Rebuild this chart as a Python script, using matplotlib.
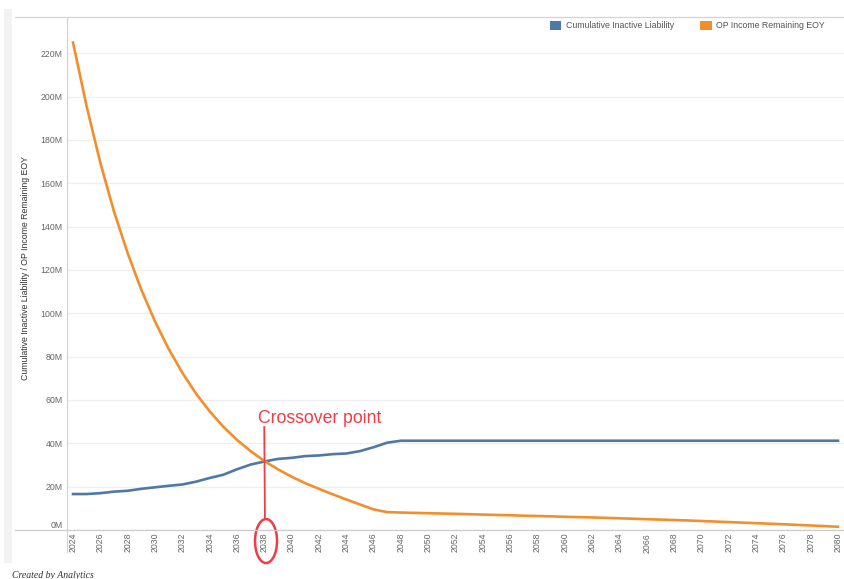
import matplotlib
matplotlib.use("Agg")
import matplotlib.pyplot as plt
from matplotlib.patches import Patch, Ellipse, Rectangle
from matplotlib.lines import Line2D

plt.rcParams['font.family'] = ['Liberation Sans', 'DejaVu Sans']

# ---- data (values in millions) ----
years = list(range(2024, 2081))

inactive_liability = [
    16.6, 16.6, 17.0, 17.7, 18.1, 19.0, 19.7, 20.4, 21.0, 22.3,
    24.0, 25.5, 28.0, 30.2, 31.6, 32.8, 33.3, 34.1, 34.4, 35.0,
    35.3, 36.4, 38.2, 40.3, 41.2, 41.2, 41.2, 41.2, 41.2, 41.2,
    41.2, 41.2, 41.2, 41.2, 41.2, 41.2, 41.2, 41.2, 41.2, 41.2,
    41.2, 41.2, 41.2, 41.2, 41.2, 41.2, 41.2, 41.2, 41.2, 41.2,
    41.2, 41.2, 41.2, 41.2, 41.2, 41.2, 41.2,
]

op_income_remaining = [
    225.0, 195.5, 169.5, 147.0, 127.8, 110.9, 96.3, 83.6, 72.6, 63.0,
    54.8, 47.7, 41.6, 36.4, 31.9, 28.0, 24.6, 21.6, 19.0, 16.5,
    14.1, 11.8, 9.5, 8.25, 8.05, 7.9, 7.75, 7.6, 7.45, 7.3,
    7.1, 6.95, 6.8, 6.6, 6.45, 6.3, 6.1, 5.95, 5.8, 5.6,
    5.4, 5.2, 5.0, 4.8, 4.6, 4.4, 4.15, 3.9, 3.65, 3.4,
    3.15, 2.9, 2.65, 2.35, 2.1, 1.8, 1.5,
]

series_names = ["Cumulative Inactive Liability", "OP Income Remaining EOY"]
y_ticks = [0, 20, 40, 60, 80, 100, 120, 140, 160, 180, 200, 220]
y_tick_labels = [f"{v}M" for v in y_ticks]
x_ticks = list(range(2024, 2081, 2))

crossover_year = 2038
annotation_text = "Crossover point"
footer_text = "Created by Analytics"
y_axis_title = "Cumulative Inactive Liability / OP Income Remaining EOY"

# ---- styling ----
BLUE = "#4e79a7"
ORANGE = "#f28e2b"
RED = "#f03c46"
GRID = "#efefef"
AXIS = "#d4d4d4"
TEXT = "#666666"

W, H = 844, 579
fig = plt.figure(figsize=(W / 100, H / 100), dpi=100)

def fx(px):
    return px / W

def fy(py):
    return 1 - py / H

ax = fig.add_axes([fx(67), fy(530), fx(844) - fx(67), fy(17) - fy(530)])

ax.plot(years, inactive_liability, color=BLUE, lw=1.9, solid_joinstyle='round', zorder=3)
ax.plot(years, op_income_remaining, color=ORANGE, lw=1.9, solid_joinstyle='round', zorder=3)

ax.set_xlim(2024 - 6 / 13.66, 2080 + 6 / 13.66)
ax.set_ylim(0, 513 / 2.1667)

ax.set_yticks(y_ticks)
ax.set_yticklabels(y_tick_labels)
ax.set_xticks(x_ticks)
ax.set_xticklabels([str(x) for x in x_ticks], rotation=90)
ax.tick_params(axis='y', length=0, pad=3, labelsize=6.3, labelcolor=TEXT)
ax.tick_params(axis='x', length=0, pad=2, labelsize=6.3, labelcolor=TEXT)
ax.get_yticklabels()[0].set_va('bottom')

ax.grid(axis='y', color=GRID, lw=0.9, zorder=0)
ax.grid(axis='x', visible=False)
for side in ['top', 'right', 'bottom']:
    ax.spines[side].set_visible(False)
ax.spines['left'].set_color(AXIS)
ax.spines['left'].set_linewidth(0.9)

# crossover annotation
ax.plot([crossover_year, crossover_year + 0.05], [47.5, 5.1], color=RED, lw=1.3,
        clip_on=False, zorder=4)
ax.text(crossover_year - 0.46, 49.3, annotation_text, color=RED, fontsize=12.7,
        va='baseline', ha='left', zorder=4)
ax.add_patch(Ellipse((crossover_year + 0.13, -5.1), 1.61, 20.3, fill=False,
                     edgecolor=RED, lw=1.8, clip_on=False, zorder=4))

# frame lines around the view
fig.add_artist(Line2D([fx(15), 1], [fy(17), fy(17)], color=AXIS, lw=0.9))
fig.add_artist(Line2D([fx(15), 1], [fy(530), fy(530)], color="#cccccc", lw=0.9))
fig.add_artist(Line2D([fx(67), fx(67)], [fy(530), fy(552)], color=AXIS, lw=0.9))
fig.add_artist(Rectangle((fx(4), fy(563)), fx(8), fy(9) - fy(563),
                         facecolor="#f3f3f3", edgecolor='none', zorder=0))

# axis title
fig.text(fx(26), fy(268), y_axis_title, rotation=90, ha='center', va='center',
         fontsize=6.3, color="#333333")

# legend
handles = [Patch(facecolor=BLUE, edgecolor='none'), Patch(facecolor=ORANGE, edgecolor='none')]
fig.legend(handles, series_names, loc='center left',
           bbox_to_anchor=(fx(550), fy(25.5)), ncol=2, frameon=False,
           fontsize=6.3, handlelength=1.3, handleheight=1.3, handletextpad=0.5,
           columnspacing=3.0, borderpad=0, borderaxespad=0, labelcolor="#555555")

# footer
fig.text(fx(12), fy(571), footer_text, fontsize=7, style='italic',
         family=['Liberation Serif', 'DejaVu Serif'], color="#333333",
         ha='left', va='top')

fig.savefig("out.png", dpi=100)
